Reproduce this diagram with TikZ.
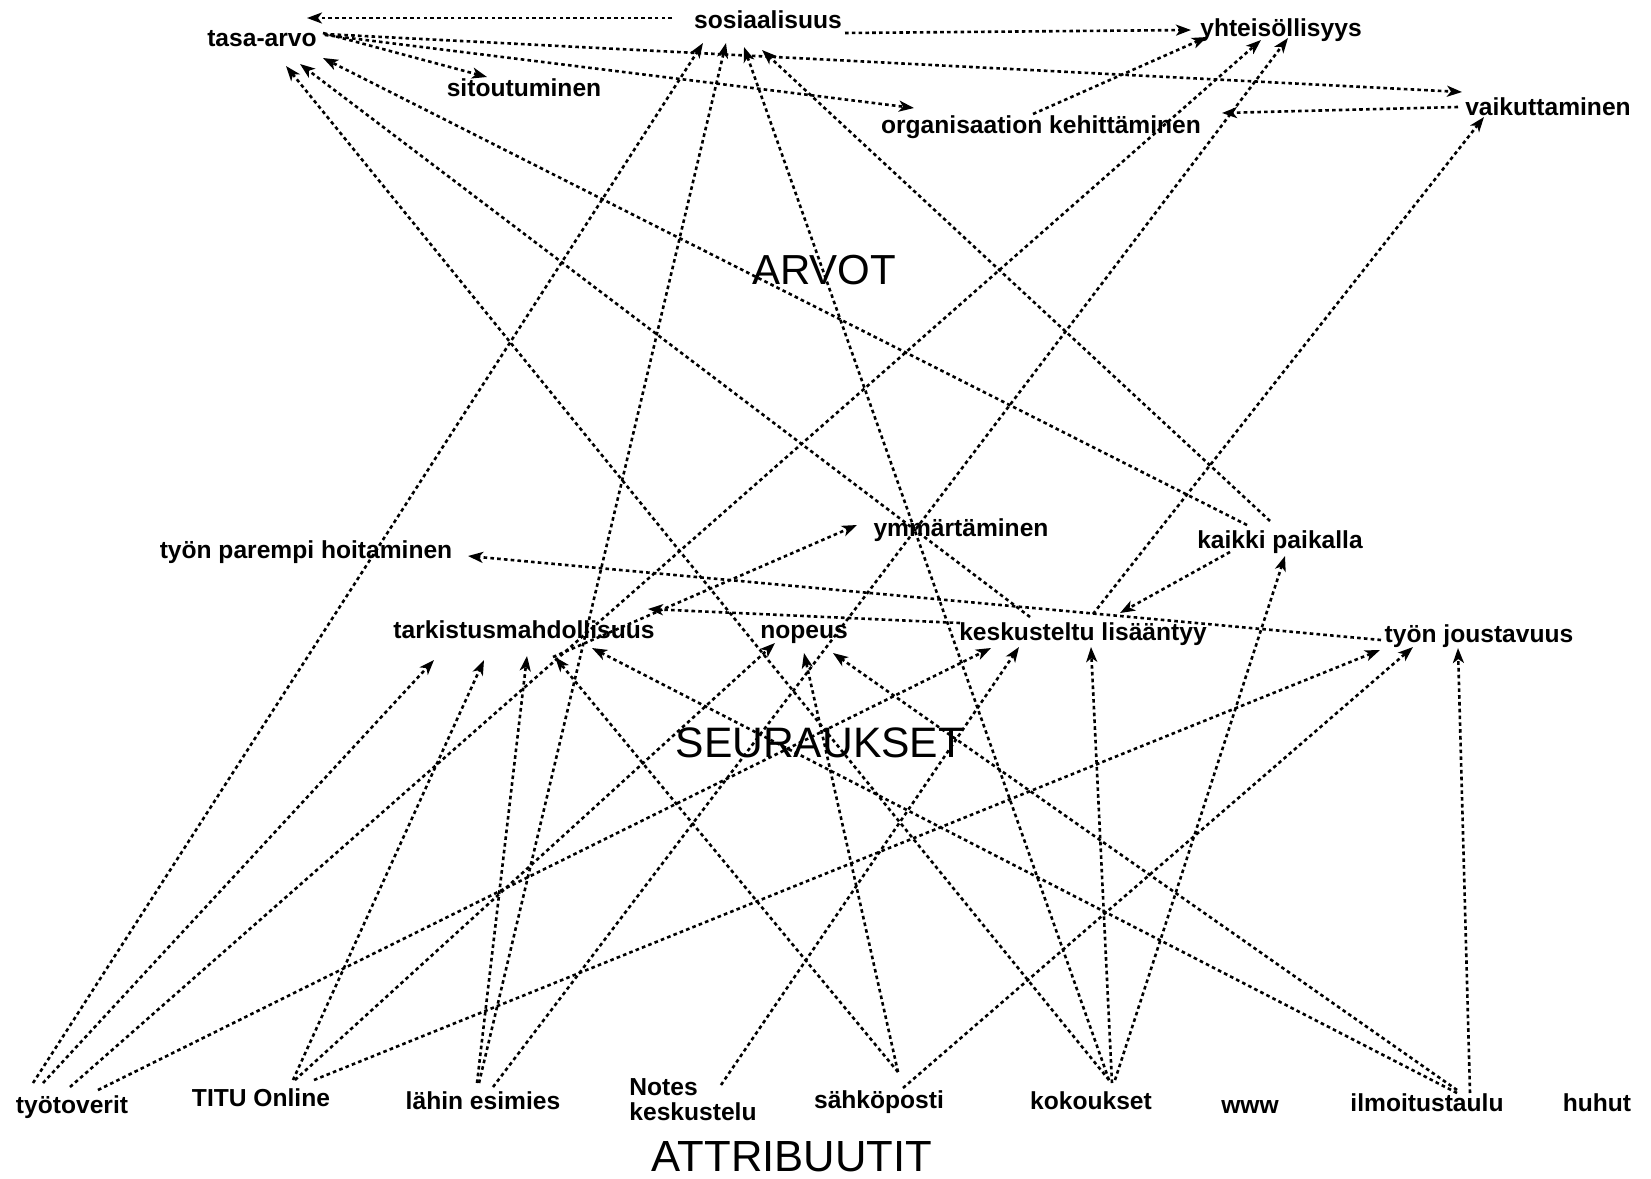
\documentclass[tikz,border=0pt]{standalone}
\usepackage{fontspec}
\setmainfont{Liberation Sans}
\usetikzlibrary{arrows.meta,calc}
\begin{document}
\begin{tikzpicture}[x=0.5pt,y=-0.5pt,
  lbl/.style={font=\bfseries\fontsize{12.3}{14}\selectfont, inner sep=0pt, text height=9pt, text depth=2.5pt},
  twoline/.style={font=\bfseries\fontsize{12.3}{12.5}\selectfont, inner sep=0pt, align=left},
  big/.style={font=\fontsize{21}{24}\selectfont, inner sep=0pt},
  link/.style={draw=black, line width=1.3pt, dash pattern=on 1.8pt off 1.6pt,
    -{Stealth[length=7.5pt,width=5.5pt,inset=2pt]}}]
\useasboundingbox (0,0) rectangle (1651,1179);

% values
\node[lbl] (tasa) at (262,40) {tasa-arvo};
\node[lbl] (sosi) at (768,22) {sosiaalisuus};
\node[lbl] (yhte) at (1281,30) {yhteisöllisyys};
\node[lbl] (sito) at (524,90) {sitoutuminen};
\node[lbl] (orga) at (1041,127) {organisaation kehittäminen};
\node[lbl] (vaik) at (1548,109) {vaikuttaminen};
\node[big] (arvot) at (824,270) {ARVOT};

% consequences
\node[lbl] (parempi) at (306,552) {työn parempi hoitaminen};
\node[lbl] (ymmar) at (961,530) {ymmärtäminen};
\node[lbl] (kaikki) at (1280,542) {kaikki paikalla};
\node[lbl] (tark) at (524,632) {tarkistusmahdollisuus};
\node[lbl] (nopeus) at (804,632) {nopeus};
\node[lbl] (kesk) at (1083,634) {keskusteltu lisääntyy};
\node[lbl] (jousto) at (1479,636) {työn joustavuus};
\node[big, font=\fontsize{21.3}{24}\selectfont] (seur) at (820,743) {SEURAUKSET};

% attributes
\node[lbl] (tyot) at (72,1107) {työtoverit};
\node[lbl] (titu) at (261,1100) {TITU Online};
\node[lbl] (lahin) at (483,1103) {lähin esimies};
\node[twoline, anchor=west] (notes) at (629,1100) {Notes\\keskustelu};
\node[lbl] (sahko) at (879,1102) {sähköposti};
\node[lbl] (kokou) at (1091,1103) {kokoukset};
\node[lbl] (www) at (1250,1107) {www};
\node[lbl] (ilmo) at (1427,1105) {ilmoitustaulu};
\node[lbl] (huhut) at (1597,1105) {huhut};
\node[big, font=\fontsize{21.8}{24}\selectfont] (attr) at (792,1157) {ATTRIBUUTIT};

% links among values
\draw[link] ($(sosi)+(-96,-4)$) -- ($(tasa)+(45,-22)$);
\draw[link] ($(sosi)+(77,11)$) -- ($(yhte)+(-90,0)$);
\draw[link] ($(tasa)+(61,-7)$) -- ($(sito)+(-37,-13)$);
\draw[link] ($(tasa)+(63,-5)$) -- ($(orga)+(-127,-19)$);
\draw[link] ($(tasa)+(62,-6)$) -- ($(vaik)+(-86,-17)$);
\draw[link] ($(vaik)+(-90,-2)$) -- ($(orga)+(181,-14)$);
\draw[link] ($(orga)+(-8,-13)$) -- ($(yhte)+(-74,7)$);

% links from consequences
\draw[link] ($(kaikki)+(-33,-17)$) -- ($(tasa)+(61,18)$);
\draw[link] ($(kaikki)+(-10,-21)$) -- ($(sosi)+(-6,28)$);
\draw[link] ($(kesk)+(-53,-17)$) -- ($(tasa)+(38,24)$);
\draw[link] ($(kesk)+(10,-20)$) -- ($(vaik)+(-64,8)$);
\draw[link] ($(kaikki)+(-50,10)$) -- ($(kesk)+(37,-21)$);
\draw[link] ($(kesk)+(-123,-11)$) -- ($(tark)+(124,-23)$);
\draw[link] ($(jousto)+(-98,4)$) -- ($(parempi)+(162,4)$);
\draw[link] ($(tark)+(29,25)$) -- ($(ymmar)+(-104,-5)$);

% links from attributes
\draw[link] ($(tyot)+(-39,-24)$) -- ($(sosi)+(-65,21)$);
\draw[link] ($(tyot)+(-29,-24)$) -- ($(tark)+(-90,28)$);
\draw[link] ($(tyot)+(-2,-20)$) -- ($(yhte)+(-20,10)$);
\draw[link] ($(tyot)+(26,-17)$) -- ($(kesk)+(-92,14)$);
\draw[link] ($(titu)+(32,-20)$) -- ($(tark)+(-40,28)$);
\draw[link] ($(titu)+(34,-20)$) -- ($(nopeus)+(-29,11)$);
\draw[link] ($(titu)+(53,-20)$) -- ($(jousto)+(-99,14)$);
\draw[link] ($(lahin)+(-6,-20)$) -- ($(tark)+(3,24)$);
\draw[link] ($(lahin)+(-4,-20)$) -- ($(sosi)+(-42,21)$);
\draw[link] ($(lahin)+(10,-16)$) -- ($(yhte)+(7,8)$);
\draw[link] ($(notes.west)+(92,-15)$) -- ($(kesk)+(-64,13)$);
\draw[link] ($(sahko)+(19,-30)$) -- ($(tark)+(31,25)$);
\draw[link] ($(sahko)+(19,-30)$) -- ($(nopeus)+(0,21)$);
\draw[link] ($(sahko)+(24,-14)$) -- ($(jousto)+(-66,11)$);
\draw[link] ($(kokou)+(18,-23)$) -- ($(tasa)+(24,26)$);
\draw[link] ($(kokou)+(18,-23)$) -- ($(sosi)+(-24,25)$);
\draw[link] ($(kokou)+(21,-20)$) -- ($(kesk)+(8,13)$);
\draw[link] ($(kokou)+(24,-23)$) -- ($(kaikki)+(5,14)$);
\draw[link] ($(ilmo)+(30,-12)$) -- ($(tark)+(68,16)$);
\draw[link] ($(ilmo)+(30,-15)$) -- ($(nopeus)+(29,21)$);
\draw[link] ($(ilmo)+(43,-12)$) -- ($(jousto)+(-21,12)$);
\end{tikzpicture}
\end{document}
